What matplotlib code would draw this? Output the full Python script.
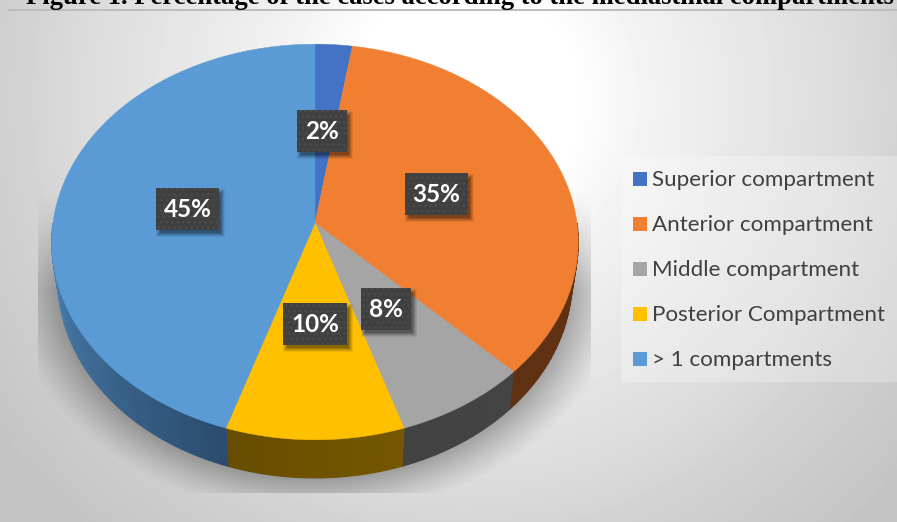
import numpy as np
import matplotlib
matplotlib.use('Agg')
import matplotlib.pyplot as plt
from matplotlib.patches import Rectangle

categories = ['Superior compartment', 'Anterior compartment', 'Middle compartment',
              'Posterior Compartment', '> 1 compartments']
values = [2.5, 35, 7.5, 10, 45]
value_labels = ['2%', '35%', '8%', '10%', '45%']
top_colors = ['#4472c4', '#f07f32', '#a5a5a5', '#ffc000', '#5b9bd5']
title = 'Figure 1. Percentage of the cases according to the mediastinal compartments'

W, H = 897, 522
# pie geometry in pixels
px, py = 315, 223
rb, ra, persp = 262, 196, 0.096
depth, shrink = 38, 0.976

fig = plt.figure(figsize=(W / 100, H / 100), dpi=100)
ax = fig.add_axes([0, 0, 1, 1])
ax.set_xlim(0, W)
ax.set_ylim(H, 0)
ax.axis('off')

yy, xx = np.mgrid[0:H, 0:W] + 0.5

# background
d = np.hypot(xx - 465, yy - 100)
grey = np.interp(d, [0, 110, 180, 300, 380, 460, 570, 650],
                 [255, 255, 243, 229, 220, 208, 196, 192]) / 255
ax.imshow(grey, extent=(0, W, H, 0), cmap='gray', vmin=0, vmax=1, zorder=1,
          clip_path=Rectangle((8, 9), W - 8, H - 9, transform=ax.transData), aspect='auto')
ax.add_patch(Rectangle((8, 9), W - 8, 1.5, color='#bdbdbd', lw=0, zorder=2))

# shadow under the pie
r = np.hypot((xx - px) / 258, (yy - 279) / 199)
dist = np.clip((r - 1) * 210, 0, None)
alpha = 0.29 * np.clip(1 - dist / 40, 0, 1) ** 1.2
alpha *= np.clip((yy - 190) / 100, 0, 1)
alpha[(xx < 38) | (xx > 591) | (yy > 493)] = 0
shadow = np.zeros((H, W, 4))
shadow[..., 3] = alpha
ax.imshow(shadow, extent=(0, W, H, 0), zorder=3, aspect='auto')
ax.set_xlim(0, W)
ax.set_ylim(H, 0)


def rim(theta):
    # clockwise angle from the top -> pixel offset from the pivot
    x, y = np.sin(theta), np.cos(theta)
    w = 1 + persp * y
    return rb * x / w, -ra * y / w


edges = np.radians(np.cumsum([0] + values) * 3.6)
side_colors = [('#3a5a9a', '#3a5a9a'), ('#673516', '#5f3012'), ('#444444', '#424242'),
               ('#755700', '#674d00'), ('#2b4c6e', '#4f88bb')]

# side wall, front half only
for i in range(len(values)):
    steps = max(int(np.degrees(edges[i + 1] - edges[i]) / 1.5), 2)
    t = np.linspace(edges[i], edges[i + 1], steps + 1)
    c0 = np.array(matplotlib.colors.to_rgb(side_colors[i][0]))
    c1 = np.array(matplotlib.colors.to_rgb(side_colors[i][1]))
    for j in range(steps):
        seg = np.linspace(t[j], t[j + 1], 3)
        if np.cos(seg[1]) > 0:
            continue
        ux, uy = rim(seg)
        sx = np.r_[px + ux, px + ux[::-1] * shrink]
        sy = np.r_[py + uy, py + uy[::-1] + depth]
        f = j / steps
        if i == 4:
            f = min(f * 2.2, 1)
        col = c0 + (c1 - c0) * f
        ax.fill(sx, sy, color=col, lw=0.9, zorder=4)

# top face
for i in range(len(values)):
    t = np.linspace(edges[i], edges[i + 1], 200)
    ux, uy = rim(t)
    ax.fill(np.r_[px, px + ux], np.r_[py, py + uy], color=top_colors[i], lw=0.3, zorder=5)

# value labels
plt.rcParams['hatch.linewidth'] = 1.0
label_boxes = [(297, 110, 50, 42), (405, 173, 63, 42), (361, 288, 50, 42),
               (283, 303, 64, 42), (156, 188, 63, 42)]
for lab, (bx, by, bw, bh) in zip(value_labels, label_boxes):
    for grow, a in [(3, 0.07), (2, 0.09), (1, 0.11), (0, 0.14), (-1, 0.16)]:
        ax.add_patch(Rectangle((bx + 3 - grow, by + 4 - grow), bw + 2 * grow, bh + 2 * grow,
                               color='black', alpha=a, lw=0, zorder=6))
    ax.add_patch(Rectangle((bx, by), bw, bh, facecolor='#404040', edgecolor='#4c4c4c',
                           hatch='...', lw=0, zorder=7))
    ax.text(bx + bw / 2, by + bh / 2 + 0.5, lab, color='white', fontsize=17.5, family='Lato',
            fontweight='bold', ha='center', va='center', zorder=8)

# legend
ax.add_patch(Rectangle((621, 156), W - 621, 226, color='white', alpha=0.25, lw=0, zorder=6))
for i, cat in enumerate(categories):
    ry = 179 + 45 * i
    ax.add_patch(Rectangle((633, ry - 7), 14, 14, color=top_colors[i], lw=0, zorder=7))
    ax.text(652, ry + 1, cat, color='#404040', fontsize=16.1, family='Lato', ha='left',
            va='center', zorder=8)

# title, cut by the top edge as in the source
ax.text(460, 3.5, title, color='black', fontsize=19.2, family='Liberation Serif',
        fontweight='bold', ha='center', va='baseline', zorder=9)

fig.savefig('out.png', dpi=100)
